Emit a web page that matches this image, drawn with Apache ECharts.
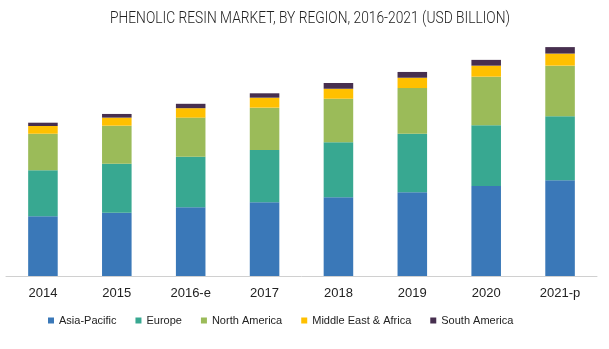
<!DOCTYPE html>
<html><head><meta charset="utf-8">
<script src="https://cdn.jsdelivr.net/npm/echarts@6/dist/echarts.min.js"></script>
<style>html,body{margin:0;padding:0;background:#fff;}#c{width:609px;height:349px;}</style>
</head><body><div id="c"></div>
<script>
var categories = ['2014','2015','2016-e','2017','2018','2019','2020','2021-p'];
var asiaPacific = [3.41,3.62,3.93,4.21,4.50,4.78,5.14,5.47];
var europe = [2.63,2.80,2.89,2.99,3.14,3.35,3.47,3.66];
var northAmerica = [2.09,2.17,2.23,2.42,2.49,2.61,2.78,2.89];
var middleEastAfrica = [0.44,0.46,0.54,0.57,0.57,0.59,0.63,0.69];
var southAmerica = [0.19,0.21,0.25,0.25,0.33,0.33,0.33,0.37];
var seriesNames = ['Asia-Pacific','Europe','North America','Middle East & Africa','South America'];
var titleText = 'PHENOLIC RESIN MARKET, BY REGION, 2016-2021 (USD BILLION)';
var colors = ['#3a78b8','#38a891','#9bbb59','#ffc000','#472f4f'];
var values = [asiaPacific, europe, northAmerica, middleEastAfrica, southAmerica];

var titleFont = '300 17px Roboto';
var ctx = document.createElement('canvas').getContext('2d');
ctx.font = titleFont;
var tw = ctx.measureText(titleText).width;
var sx = 400 / tw;

var chart = echarts.init(document.getElementById('c'), null, {renderer:'canvas'});
chart.setOption({
  animation:false,
  color: colors,
  graphic:[{type:'text', left:110, top:10, scaleX:sx, originX:0,
    style:{text:titleText, font:titleFont, fill:'#222'}}],
  legend:{bottom:18, left:43, itemWidth:6, itemHeight:6, itemGap:19, icon:'rect',
    textStyle:{fontFamily:'Liberation Sans', fontSize:11, color:'#222'},
    data: seriesNames},
  grid:{left:6, right:12, top:31, height:245, containLabel:false},
  xAxis:{type:'category', data:categories,
    axisLine:{lineStyle:{color:'#d0d0d0'}}, axisTick:{show:false},
    axisLabel:{fontFamily:'Liberation Sans', fontSize:13, color:'#222', margin:11}},
  yAxis:{type:'value', min:0, max:14, show:false, splitLine:{show:false}},
  series: seriesNames.map(function(n,i){
    return {name:n, type:'bar', stack:'total', barWidth:'40%', data:values[i],
      itemStyle:{color:colors[i]}};
  })
});
</script></body></html>
